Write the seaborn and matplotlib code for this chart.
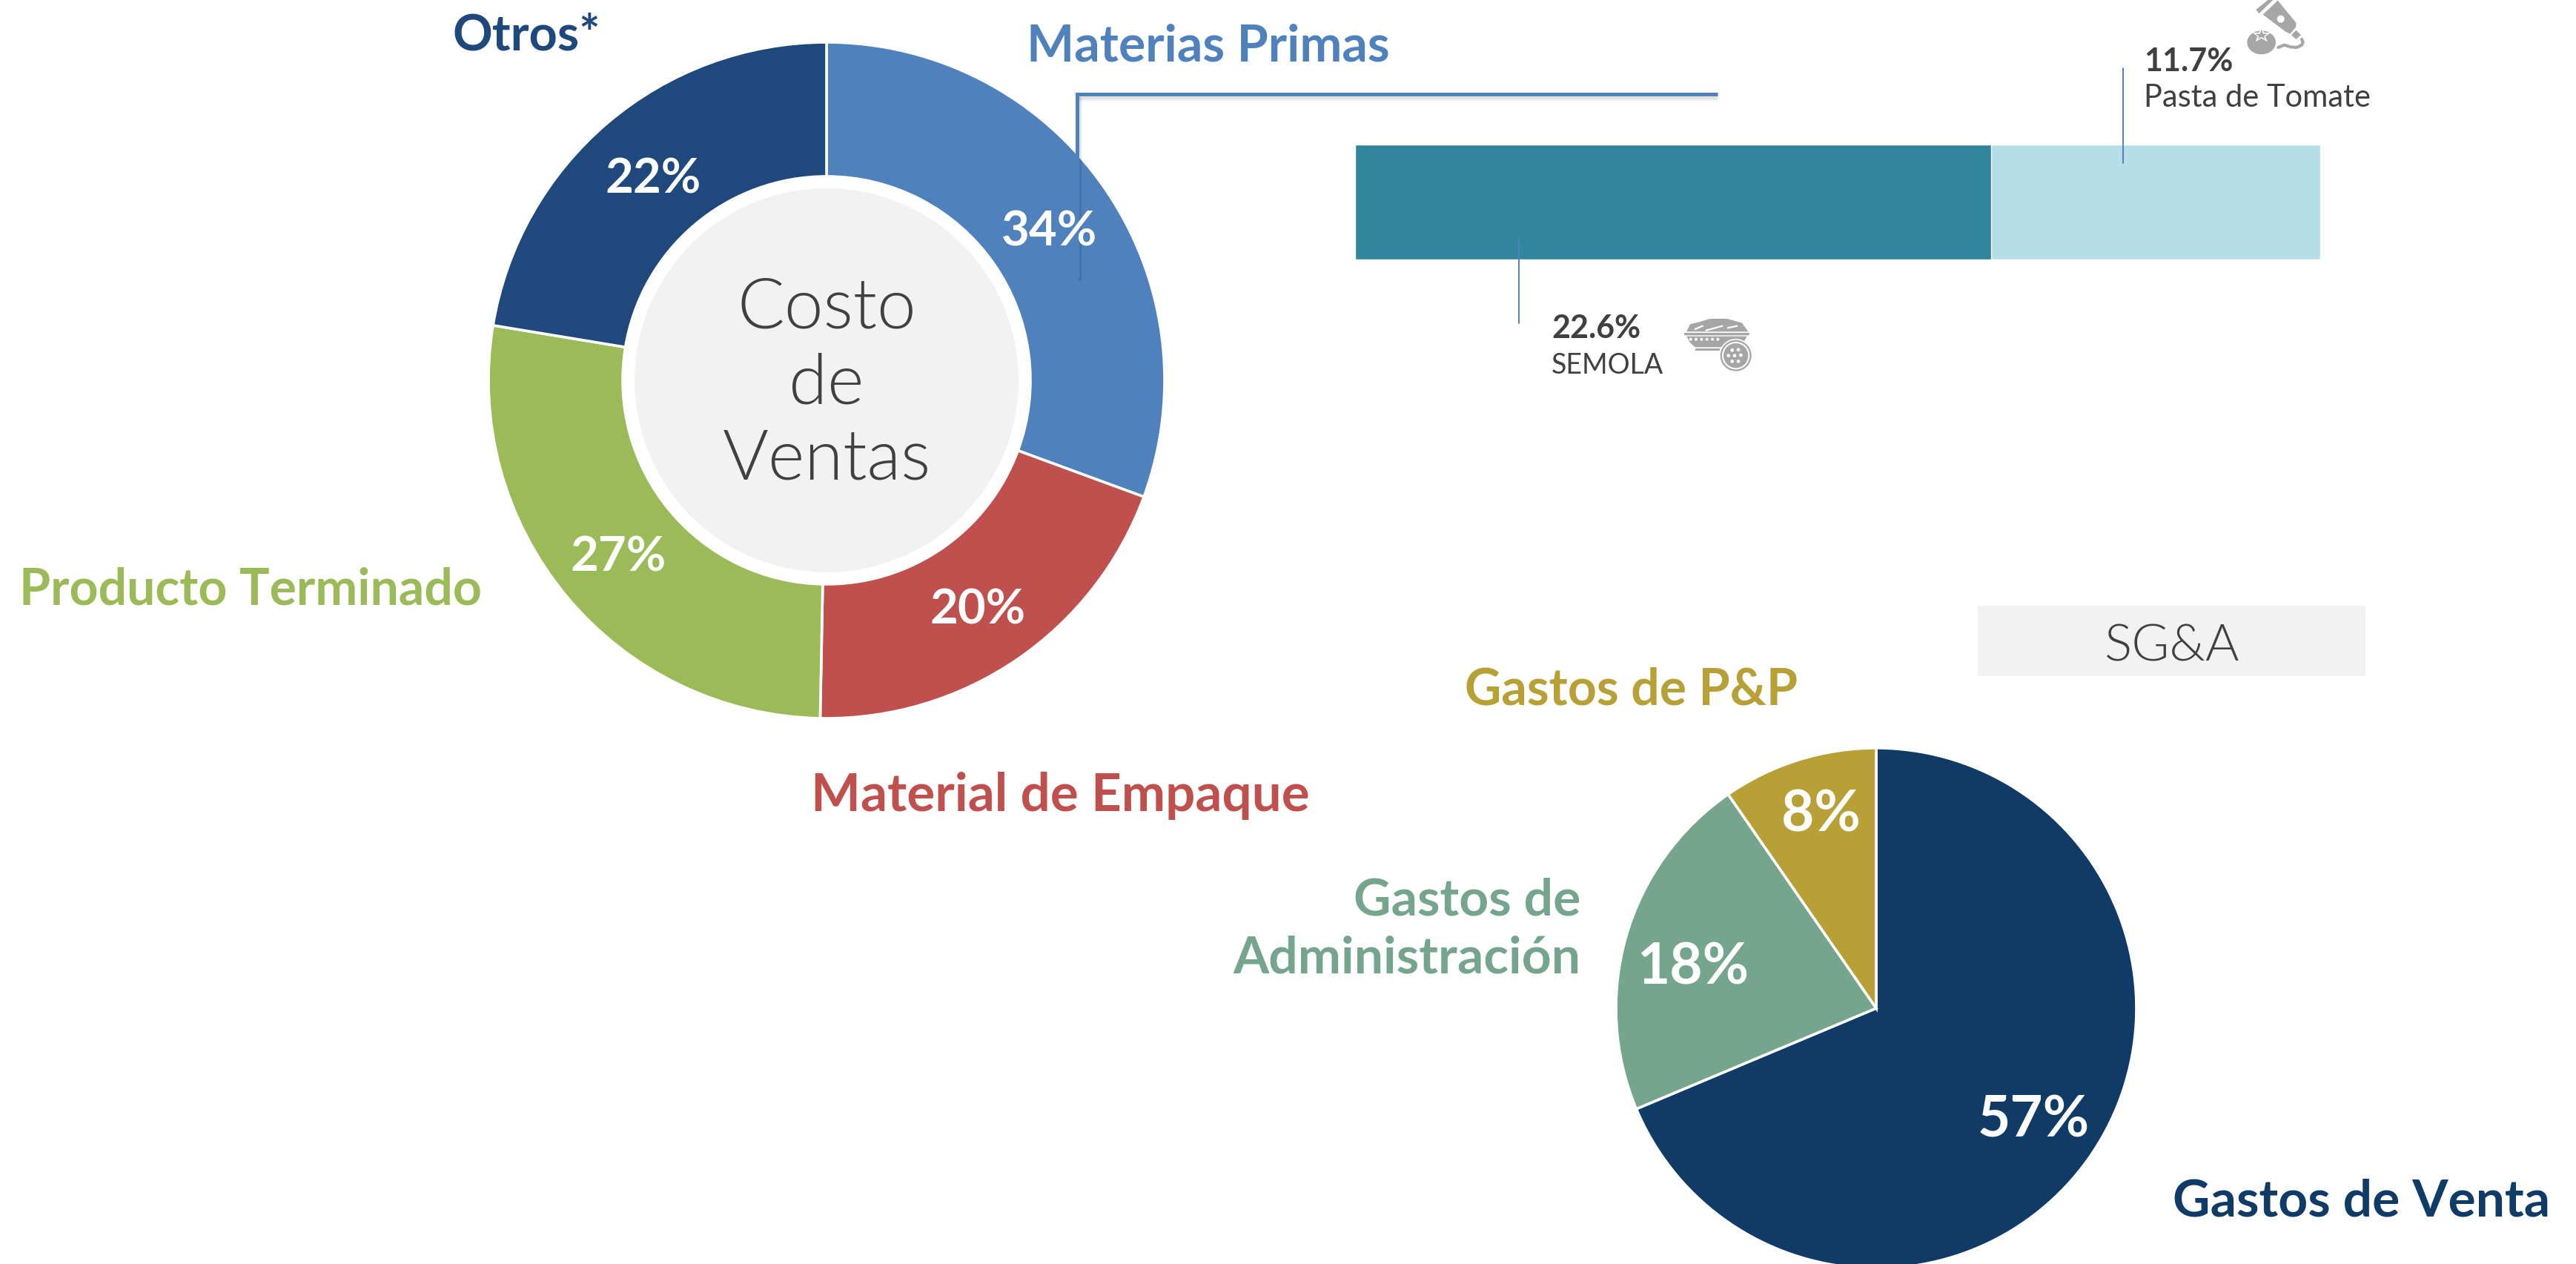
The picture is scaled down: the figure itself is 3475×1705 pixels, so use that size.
import matplotlib
matplotlib.use('Agg')
import matplotlib.pyplot as plt
import seaborn as sns
import pandas as pd
from matplotlib.patches import Circle, Rectangle, Polygon, Ellipse

# costo de ventas - slice sizes as measured, printed labels are the slide's own
costo_cats = ['Materias Primas', 'Material de Empaque', 'Producto Terminado', 'Otros*']
costo_vals = [30.6, 19.7, 27.3, 22.4]
costo_labels = ['34%', '20%', '27%', '22%']
costo_colors = ['#4F81BD', '#C0504D', '#9BBB59', '#1F497D']

sga_cats = ['Gastos de Venta', 'Gastos de\nAdministración', 'Gastos de P&P']
sga_vals = [57, 18, 8]
sga_colors = ['#0F3B66', '#76A58E', '#B7A137']

mp_cats = ['SEMOLA', 'Pasta de Tomate']
mp_vals = [22.6, 11.7]
mp_colors = ['#31859C', '#B7DEE8']

W, H = 3475, 1706
FONT = 'Lato'
sns.set_theme(style='white')
plt.rcParams['font.family'] = [FONT, 'DejaVu Sans']

fig = plt.figure(figsize=(W / 100, H / 100), dpi=100)
bg = fig.add_axes([0, 0, 1, 1], zorder=5)
bg.set_xlim(0, W)
bg.set_ylim(H, 0)
bg.axis('off')
bg.patch.set_alpha(0)


def px_axes(x0, y0, x1, y1, z=1):
    return fig.add_axes([x0 / W, 1 - y1 / H, (x1 - x0) / W, (y1 - y0) / H], zorder=z)


def txt(x, y, s, size, color, weight='bold', ha='center', ls=1.0):
    bg.text(x, y + 5, s, fontsize=size, color=color, fontweight=weight, ha=ha, va='center', linespacing=ls)


# donut
cx, cy, r = 1115, 514, 456
ax = px_axes(cx - r, cy - r, cx + r, cy + r)
ax.pie(costo_vals, colors=costo_colors, startangle=90, counterclock=False, radius=1,
       wedgeprops=dict(width=1 - 275 / 456, edgecolor='white', linewidth=2.6))
ax.set_xlim(-1, 1)
ax.set_ylim(-1, 1)
ax.add_patch(Circle((0, 0), 259 / 456, color='#F2F2F2', lw=0))
for y, s in zip([411, 513, 615], ['Costo', 'de', 'Ventas']):
    txt(cx, y, s, 68, '#404040', 300)
for (x, y), s in zip([(1415, 308), (1319, 818), (834, 747), (881, 237)], costo_labels):
    txt(x, y, s, 47, 'white')

# pie
px, py, pr = 2531, 1361, 351
ax2 = px_axes(px - pr, py - pr, px + pr, py + pr)
ax2.pie(sga_vals, colors=sga_colors, startangle=90, counterclock=False, radius=1,
        wedgeprops=dict(edgecolor='white', linewidth=2.6), normalize=True)
ax2.set_xlim(-1, 1)
ax2.set_ylim(-1, 1)
for (x, y), v in zip([(2743, 1507), (2285, 1301), (2456, 1095)], sga_vals):
    txt(x, y, f'{v}%', 55, 'white')

# stacked bar, total first then the first piece over it
df = pd.DataFrame({'item': ['mp'], 'semola': [mp_vals[0]], 'total': [sum(mp_vals)]})
ax3 = px_axes(1828, 196, 3130, 351)
sns.barplot(data=df, x='total', y='item', color=mp_colors[1], saturation=1, width=1, ax=ax3)
sns.barplot(data=df, x='semola', y='item', color=mp_colors[0], saturation=1, width=1, ax=ax3)
ax3.set_xlim(0, sum(mp_vals))
ax3.set_ylim(0.5, -0.5)
ax3.axis('off')

# category names
txt(1630, 58, costo_cats[0], 49, costo_colors[0])
txt(1430, 1068, costo_cats[1], 51, costo_colors[1])
txt(338, 791, costo_cats[2], 49, costo_colors[2])
txt(710, 43, costo_cats[3], 48, costo_colors[3])
txt(3186, 1616, sga_cats[0], 50, sga_colors[0])
txt(2132, 1249, sga_cats[1], 50, sga_colors[1], ha='right', ls=1.3)
txt(2200, 926, sga_cats[2], 49, sga_colors[2])

# SG&A box
bg.add_patch(Rectangle((2668, 818), 523, 95, color='#F2F2F2', lw=0))
txt(2930, 868, 'SG&A', 50, '#404040', 300)

# connector from the donut to the bar, with a soft shadow
for off, a in [(8, 0.03), (6, 0.05), (4, 0.08)]:
    bg.plot([1453, 2317], [128 + off, 128 + off], color='black', alpha=a, lw=3, solid_capstyle='butt')
bg.plot([1457, 1457], [132, 380], color='black', alpha=0.10, lw=3, solid_capstyle='butt')
bg.plot([2317, 1453, 1453], [128, 128, 375], color='#4F81BD', lw=3.6, solid_capstyle='butt', solid_joinstyle='miter')
bg.plot([2864, 2864], [93, 221], color='#4F81BD', lw=1.4)
bg.plot([2049, 2049], [323, 437], color='#4F81BD', lw=1.4)

# bar notes
txt(2892, 78, f'{mp_vals[1]}%', 31, '#404040', ha='left')
txt(2892, 127, mp_cats[1], 30, '#404040', 'normal', ha='left')
txt(2093, 438, f'{mp_vals[0]}%', 31, '#404040', ha='left')
txt(2093, 488, mp_cats[0], 27, '#404040', 'normal', ha='left')


# little icons, rough grey shapes; points are in 3x crop pixels
gr = '#A6A6A6'


def poly(ox, oy, pts, c=gr):
    bg.add_patch(Polygon([(ox + a / 3, oy + b / 3) for a, b in pts], color=c, lw=0))


def disc(ox, oy, a, b, rad, c=gr):
    bg.add_patch(Circle((ox + a / 3, oy + b / 3), rad / 3, color=c, lw=0))


tx, ty = 3010, 0
poly(tx, ty, [(100, 42), (152, 0), (172, 0), (112, 58)])
poly(tx, ty, [(128, 62), (188, 5), (262, 95), (262, 112), (238, 140), (218, 130)])
disc(tx, ty, 200, 80, 15, 'white')
poly(tx, ty, [(262, 125), (282, 145), (262, 162), (243, 145)])
bg.add_patch(Ellipse((tx + 122 / 3, ty + 175 / 3), 116 / 3, 96 / 3, color=gr, lw=0))
poly(tx, ty, [(122, 110), (132, 135), (160, 135), (138, 150), (146, 172), (122, 158), (98, 172), (106, 150),
              (86, 135), (112, 135)], 'white')
poly(tx, ty, [(122, 122), (128, 140), (146, 140), (132, 150), (136, 162), (122, 152), (108, 162), (112, 150),
              (98, 140), (116, 140)])
wave_x = [190, 215, 240, 265, 285, 290, 285]
wave_y = [195, 185, 193, 195, 185, 175, 162]
bg.plot([tx + a / 3 for a in wave_x], [ty + b / 3 for b in wave_y], color=gr, lw=3)

sx, sy = 2260, 420
poly(sx, sy, [(45, 85), (60, 55), (100, 45), (140, 33), (210, 33), (270, 50), (295, 85)])
for a, b, c, d in [(80, 75, 110, 62), (125, 80, 190, 62), (212, 70, 250, 62)]:
    bg.plot([sx + a / 3, sx + c / 3], [sy + b / 3, sy + d / 3], color='white', lw=1.6)
poly(sx, sy, [(35, 90), (300, 90), (298, 100), (37, 100)])
poly(sx, sy, [(45, 104), (290, 104), (270, 140), (200, 148), (80, 148), (60, 130)])
for a in [62, 84, 106, 128, 150, 172]:
    disc(sx, sy, a, 116, 6, 'white')
poly(sx, sy, [(80, 153), (180, 153), (180, 161), (80, 161)])
disc(sx, sy, 245, 182, 68, 'white')
disc(sx, sy, 245, 182, 63)
disc(sx, sy, 245, 182, 56, 'white')
disc(sx, sy, 245, 182, 50)
for a, b in [(230, 160), (255, 158), (215, 182), (240, 182), (265, 180), (230, 205), (255, 205)]:
    disc(sx, sy, a, b, 7, 'white')

fig.savefig('out.png', dpi=100)
